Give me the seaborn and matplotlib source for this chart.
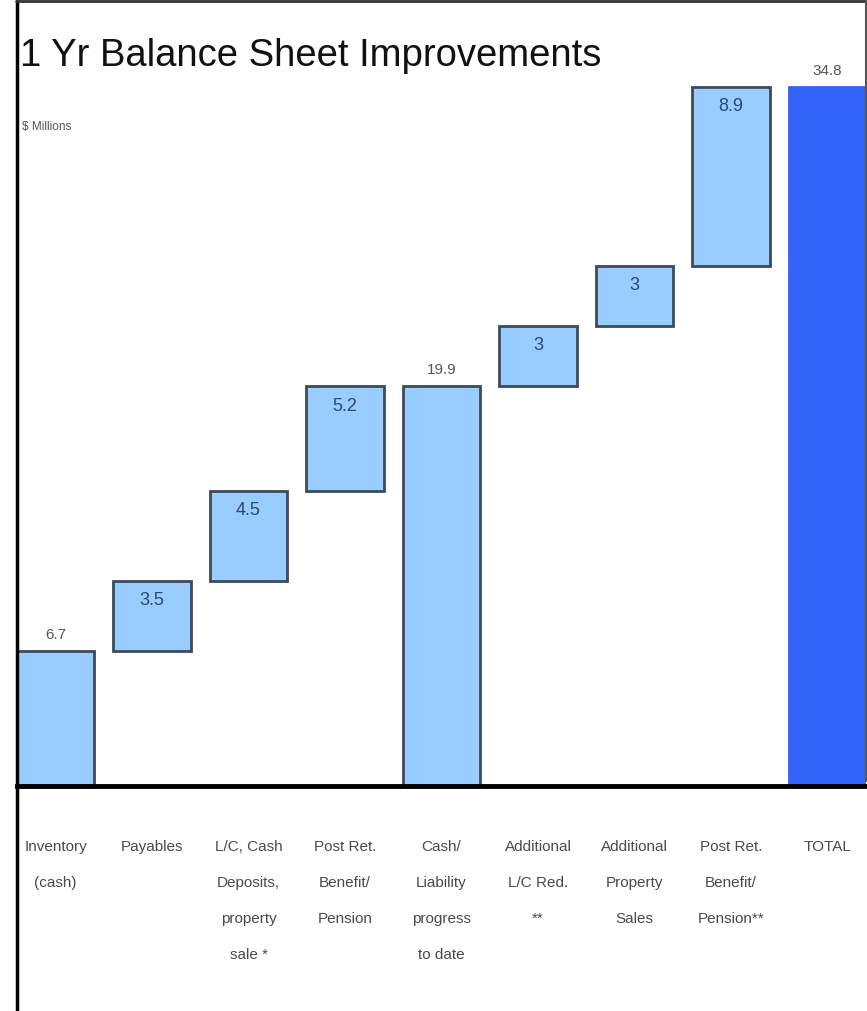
import matplotlib
matplotlib.use("Agg")
import matplotlib.pyplot as plt
import seaborn as sns
import pandas as pd
from matplotlib.lines import Line2D

# Waterfall data ($ millions)
categories = [
    "Inventory\n(cash)",
    "Payables",
    "L/C, Cash\nDeposits,\nproperty\nsale *",
    "Post Ret.\nBenefit/\nPension",
    "Cash/\nLiability\nprogress\nto date",
    "Additional\nL/C Red.\n**",
    "Additional\nProperty\nSales",
    "Post Ret.\nBenefit/\nPension**",
    "TOTAL",
]
values = [6.7, 3.5, 4.5, 5.2, 19.9, 3, 3, 8.9, 34.8]
value_labels = ["6.7", "3.5", "4.5", "5.2", "19.9", "3", "3", "8.9", "34.8"]
bar_kinds = ["step", "step", "step", "step", "subtotal", "step", "step", "step", "total"]

# Floating bars start where the running sum left off; subtotal/total start at zero
bases = []
running = 0.0
for v, kind in zip(values, bar_kinds):
    if kind == "step":
        bases.append(running)
        running += v
    else:
        bases.append(0.0)
tops = [b + v for b, v in zip(bases, values)]

LIGHT = "#99CCFF"
DARK = "#3162F6"
colors = [DARK if k == "total" else LIGHT for k in bar_kinds]

FONT = ["Liberation Sans", "DejaVu Sans"]

sns.set_theme(style="white")
plt.rcParams["font.family"] = FONT

W, H = 867, 1012
fig = plt.figure(figsize=(W / 100, H / 100), dpi=100)
fig.patch.set_facecolor("white")

ax_left, ax_right = 17 / W, 866 / W
ax_bottom = (H - 787) / H
ax = fig.add_axes([ax_left, ax_bottom, ax_right - ax_left, 1 - ax_bottom])

df = pd.DataFrame({"category": categories, "top": tops})
sns.barplot(
    data=df, x="category", y="top", hue="category", palette=colors,
    width=0.8, saturation=1, legend=False, ax=ax,
    edgecolor="#3d4a58", linewidth=2.0,
)

# Reposition each bar to its waterfall base
for i, cont in enumerate(ax.containers):
    for p in cont:
        p.set_y(bases[i])
        p.set_height(values[i])
        if bar_kinds[i] == "total":
            p.set_edgecolor(DARK)

ax.set_xlim(-0.4, 8.4)
ax.set_ylim(0, 39.2)
ax.set_xlabel("")
ax.set_ylabel("")
ax.set_yticks([])
for side in ["top", "left", "right"]:
    ax.spines[side].set_visible(False)
ax.spines["bottom"].set_linewidth(3.5)
ax.spines["bottom"].set_color("black")
ax.spines["bottom"].set_zorder(5)

ax.tick_params(axis="x", length=0, pad=38)
for lbl in ax.get_xticklabels():
    lbl.set_fontsize(11)
    lbl.set_color("#4a4a4a")
    lbl.set_linespacing(3.0)
    lbl.set_verticalalignment("top")
    lbl.set_family(FONT)

# Value labels: above bars that start at zero, inside the floating ones
for i, (b, t, txt) in enumerate(zip(bases, tops, value_labels)):
    if b == 0:
        ax.text(i, t + 0.5, txt, ha="center", va="bottom", fontsize=11,
                color="#555555", family=FONT)
    else:
        ax.text(i, t - 0.5, txt, ha="center", va="top", fontsize=13,
                color="#2a4a72", family=FONT)

fig.text(20 / W, 1 - 56 / H, "1 Yr Balance Sheet Improvements", ha="left",
         va="center", fontsize=27.5, color="#111111", family=FONT)
fig.text(22 / W, 1 - 127 / H, "$ Millions", ha="left", va="center",
         fontsize=8.5, color="#555555", family=FONT)

# Outer frame
fig.add_artist(Line2D([17 / W, 17 / W], [0, 1 - 1.5 / H], transform=fig.transFigure,
                      color="black", lw=2.5))
fig.add_artist(Line2D([16 / W, 866 / W], [1 - 1.5 / H, 1 - 1.5 / H],
                      transform=fig.transFigure, color="#333333", lw=2))
fig.add_artist(Line2D([865.5 / W, 865.5 / W], [1 - 1.5 / H, 230 / H],
                      transform=fig.transFigure, color="#555555", lw=1.5))

fig.savefig("out.png", dpi=100, facecolor="white")
